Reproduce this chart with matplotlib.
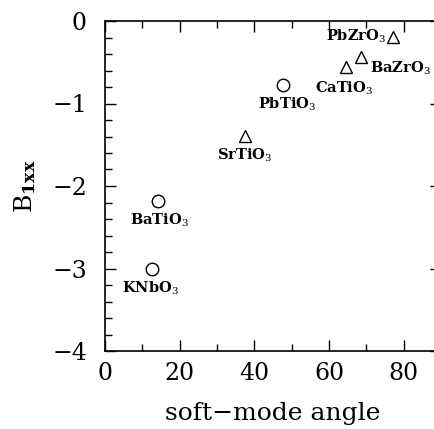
import matplotlib
matplotlib.use("Agg")
import matplotlib.pyplot as plt
from matplotlib.ticker import MultipleLocator

names = ["KNbO$_3$", "BaTiO$_3$", "SrTiO$_3$", "PbTiO$_3$", "CaTiO$_3$", "BaZrO$_3$", "PbZrO$_3$"]
angle = [12.6, 14.2, 37.5, 47.7, 64.5, 68.5, 77.1]
b1xx = [-3.0, -2.18, -1.39, -0.77, -0.56, -0.44, -0.19]
marker = ["o", "o", "^", "o", "^", "^", "^"]
# label offsets in points (dx, dy) and alignment
offs = [(-1, -14, "center"), (1, -14, "center"), (0, -14, "center"), (3, -14, "center"),
        (-1, -15, "center"), (7, -8, "left"), (-5, 0, "right")]

plt.rcParams['font.family'] = ['DejaVu Serif']
plt.rcParams['mathtext.fontset'] = 'dejavuserif'

fig = plt.figure(figsize=(4.34, 4.29), dpi=100)
ax = fig.add_axes([105/434, 1-351/429, 336/434, 330/429])

for x, y, m in zip(angle, b1xx, marker):
    ax.plot([x], [y], marker=m, ms=9 if m == "o" else 8, mfc="none", mec="black", mew=1.0,
            ls="none", clip_on=False)

for n, x, y, (dx, dy, ha) in zip(names, angle, b1xx, offs):
    ax.annotate(n, (x, y), xytext=(dx, dy), textcoords="offset points",
                ha=ha, va="center", fontsize=10.5, fontweight="bold")

ax.set_xlim(0, 90)
ax.set_ylim(-4, 0)
ax.xaxis.set_major_locator(MultipleLocator(20))
ax.xaxis.set_minor_locator(MultipleLocator(10))
ax.yaxis.set_major_locator(MultipleLocator(1))
ax.yaxis.set_minor_locator(MultipleLocator(0.2))
ax.tick_params(which="both", direction="in", top=True, right=True, width=1.0)
ax.tick_params(which="major", length=8, labelsize=17)
ax.tick_params(axis="y", which="major", pad=13)
ax.tick_params(axis="x", which="major", pad=8)
ax.tick_params(which="minor", length=5)
for s in ax.spines.values():
    s.set_linewidth(1.2)
ax.set_yticks([-4, -3, -2, -1, 0])
ax.set_yticklabels(["\u22124", "\u22123", "\u22122", "\u22121", "0"])

ax.set_xlabel("soft\u2212mode angle", fontsize=18, labelpad=12)
ax.set_ylabel("B$_{\\mathbf{1xx}}$", fontsize=18, labelpad=10)

fig.savefig("out.png", dpi=100)
